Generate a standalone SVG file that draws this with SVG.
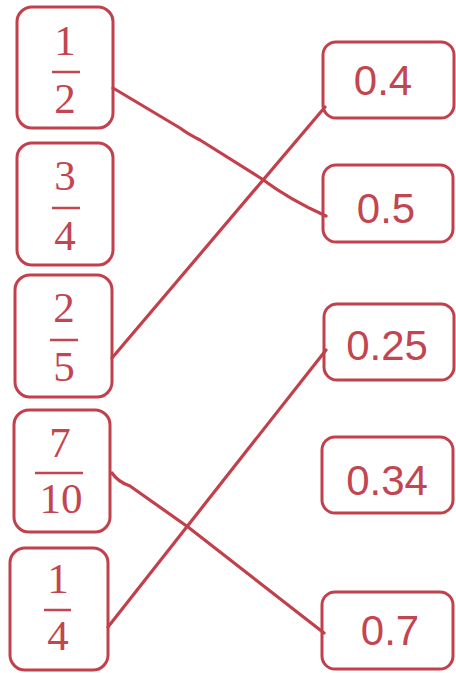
<svg xmlns="http://www.w3.org/2000/svg" width="456" height="673" viewBox="0 0 456 673">
<style>
.box{fill:#fff;stroke:#c2404b;stroke-width:3}
.frac{font-family:"Liberation Serif",serif;font-size:43px;fill:#c2454f;text-anchor:middle}
.bar{stroke:#c2454f;stroke-width:2.5}
.dec{font-family:"Liberation Sans",Arial,sans-serif;font-size:42px;fill:#c2454f;text-anchor:middle}
.link{fill:none;stroke:#c2404b;stroke-width:3.2;stroke-linecap:round;stroke-linejoin:round}
</style>
<rect width="456" height="673" fill="#fff"/>
<g id="f1_2"><rect class="box" x="17" y="7" width="96" height="121" rx="15"/><text class="frac" x="65" y="55">1</text><line class="bar" x1="52" y1="72" x2="80" y2="72"/><text class="frac" x="65" y="113">2</text></g>
<g id="f3_4"><rect class="box" x="17" y="143" width="96" height="122" rx="15"/><text class="frac" x="65" y="190">3</text><line class="bar" x1="52" y1="208" x2="80" y2="208"/><text class="frac" x="65" y="250">4</text></g>
<g id="f2_5"><rect class="box" x="15" y="275" width="97" height="122" rx="15"/><text class="frac" x="64" y="322">2</text><line class="bar" x1="50" y1="340" x2="78" y2="340"/><text class="frac" x="64" y="381">5</text></g>
<g id="f7_10"><rect class="box" x="14" y="410" width="96" height="122" rx="15"/><text class="frac" x="60" y="457">7</text><line class="bar" x1="35" y1="473" x2="83" y2="473"/><text class="frac" x="61" y="513">10</text></g>
<g id="f1_4"><rect class="box" x="10" y="548" width="98" height="122" rx="15"/><text class="frac" x="58" y="593">1</text><line class="bar" x1="44" y1="610" x2="71" y2="610"/><text class="frac" x="58" y="650">4</text></g>
<g id="d0_4"><rect class="box" x="323" y="42" width="131" height="76" rx="13"/><text class="dec" x="383" y="95">0.4</text></g>
<g id="d0_5"><rect class="box" x="323" y="165" width="130" height="77" rx="13"/><text class="dec" x="386" y="223">0.5</text></g>
<g id="d0_25"><rect class="box" x="324" y="304" width="130" height="76" rx="13"/><text class="dec" x="387" y="360">0.25</text></g>
<g id="d0_34"><rect class="box" x="322" y="437" width="131" height="76" rx="13"/><text class="dec" x="387" y="495">0.34</text></g>
<g id="d0_7"><rect class="box" x="322" y="592" width="131" height="77" rx="13"/><text class="dec" x="390" y="645">0.7</text></g>
<g id="connectors">
<path class="link" d="M113,88 L180,128 Q188,134 200,140 L262,179 Q290,200 326,216"/>
<path class="link" d="M112,358 L325,107"/>
<path class="link" d="M112,473 Q118,482 130,486 L188,527 L324,633"/>
<path class="link" d="M108,627 L326,350"/>
</g>
</svg>
